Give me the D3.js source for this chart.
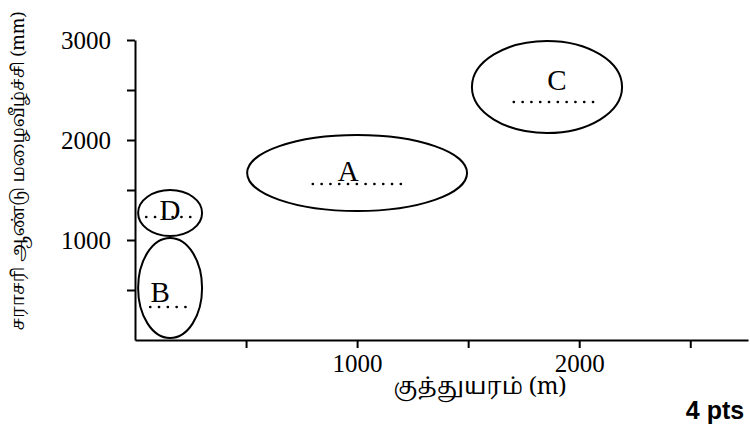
<!DOCTYPE html>
<html>
<head>
<meta charset="utf-8">
<script src="https://cdn.jsdelivr.net/npm/d3@7"></script>
<style>
  body { margin: 0; background: #fff; }
  .tick text { font-family: "Liberation Serif", "Times New Roman", serif; font-size: 25px; fill: #000; }
  .tamil { font-family: "Noto Serif Tamil", "Noto Sans Tamil", "Lohit Tamil", "Noto Sans", sans-serif; }
</style>
</head>
<body>
<div class="chart"></div>
<script>
// regions drawn as ellipses (centre / half-widths in data units)
var regions = ["A", "B", "C", "D"];
var centreX = [1000, 158, 1855, 158];     // m
var centreY = [1670, 520, 2530, 1270];    // mm
var radiusX = [495, 144, 338, 144];       // m
var radiusY = [380, 500, 460, 230];       // mm
// label position and dotted mean line
var labelX = [960, 113, 1900, 158];
var labelY = [1690, 480, 2600, 1300];
var dotX0 = [800, 68, 1705, 50];
var dotX1 = [1200, 262, 2095, 255];
var dotY = [1560, 330, 2380, 1230];

var xTicks = [500, 1000, 1500, 2000, 2500];
var xLabelled = [1000, 2000];
var yTicks = [500, 1000, 1500, 2000, 2500, 3000];
var yLabelled = [1000, 2000, 3000];

var width = 750, height = 428;

var svg = d3.select(".chart")
	.append("svg")
	.attr("width", width)
	.attr("height", height);

var x = d3.scaleLinear().domain([0, 2760]).range([135, 748]);
var y = d3.scaleLinear().domain([0, 3000]).range([340, 40]);

// x axis
svg.append("g")
	.attr("transform", "translate(0," + y(0) + ")")
	.call(d3.axisBottom(x)
		.tickValues(xTicks)
		.tickSize(8)
		.tickSizeOuter(0)
		.tickPadding(6)
		.tickFormat(function(d) { return xLabelled.indexOf(d) >= 0 ? d : ""; }));

// y axis
svg.append("g")
	.attr("transform", "translate(" + x(0) + ",0)")
	.call(d3.axisLeft(y)
		.tickValues(yTicks)
		.tickSize(8)
		.tickSizeOuter(0)
		.tickPadding(16)
		.tickFormat(function(d) { return yLabelled.indexOf(d) >= 0 ? d : ""; }));

svg.selectAll(".domain").attr("stroke", "#000").attr("stroke-width", 2);
svg.selectAll(".tick line").attr("stroke", "#000").attr("stroke-width", 2);

// ellipses
svg.append("g")
	.selectAll("ellipse")
	.data(regions)
	.enter()
	.append("ellipse")
	.attr("cx", function(d, i) { return x(centreX[i]); })
	.attr("cy", function(d, i) { return y(centreY[i]); })
	.attr("rx", function(d, i) { return x(radiusX[i]) - x(0); })
	.attr("ry", function(d, i) { return y(0) - y(radiusY[i]); })
	.attr("fill", "none")
	.attr("stroke", "#000")
	.attr("stroke-width", 2);

// dotted mean lines
svg.append("g")
	.selectAll("line")
	.data(regions)
	.enter()
	.append("line")
	.attr("x1", function(d, i) { return x(dotX0[i]); })
	.attr("x2", function(d, i) { return x(dotX1[i]); })
	.attr("y1", function(d, i) { return y(dotY[i]); })
	.attr("y2", function(d, i) { return y(dotY[i]); })
	.attr("stroke", "#000")
	.attr("stroke-width", 2.4)
	.attr("stroke-linecap", "round")
	.attr("stroke-dasharray", "0.3,8.5");

// letters
svg.append("g")
	.selectAll("text")
	.data(regions)
	.enter()
	.append("text")
	.attr("x", function(d, i) { return x(labelX[i]); })
	.attr("y", function(d, i) { return y(labelY[i]); })
	.attr("text-anchor", "middle")
	.attr("dy", "0.35em")
	.style("font-family", "'Liberation Serif', serif")
	.style("font-size", "29px")
	.style("fill", "#000")
	.text(function(d) { return d; });

// axis titles
svg.append("text")
	.attr("class", "tamil")
	.attr("transform", "translate(18,171) rotate(-90)")
	.attr("text-anchor", "middle")
	.attr("dy", "0.35em")
	.style("font-size", "17.5px")
	.style("fill", "#000")
	.text("சராசரி  ஆண்டு  மழைவீழ்ச்சி (mm)");

svg.append("text")
	.attr("class", "tamil")
	.attr("x", 480)
	.attr("y", 386)
	.attr("text-anchor", "middle")
	.attr("dy", "0.35em")
	.style("font-size", "23px")
	.style("fill", "#000")
	.text("குத்துயரம்  (m)");

svg.append("text")
	.attr("x", 715)
	.attr("y", 410)
	.attr("text-anchor", "middle")
	.attr("dy", "0.35em")
	.style("font-family", "'Liberation Sans', Arial, sans-serif")
	.style("font-weight", "bold")
	.style("font-size", "25px")
	.style("fill", "#000")
	.text("4 pts");
</script>
</body>
</html>
